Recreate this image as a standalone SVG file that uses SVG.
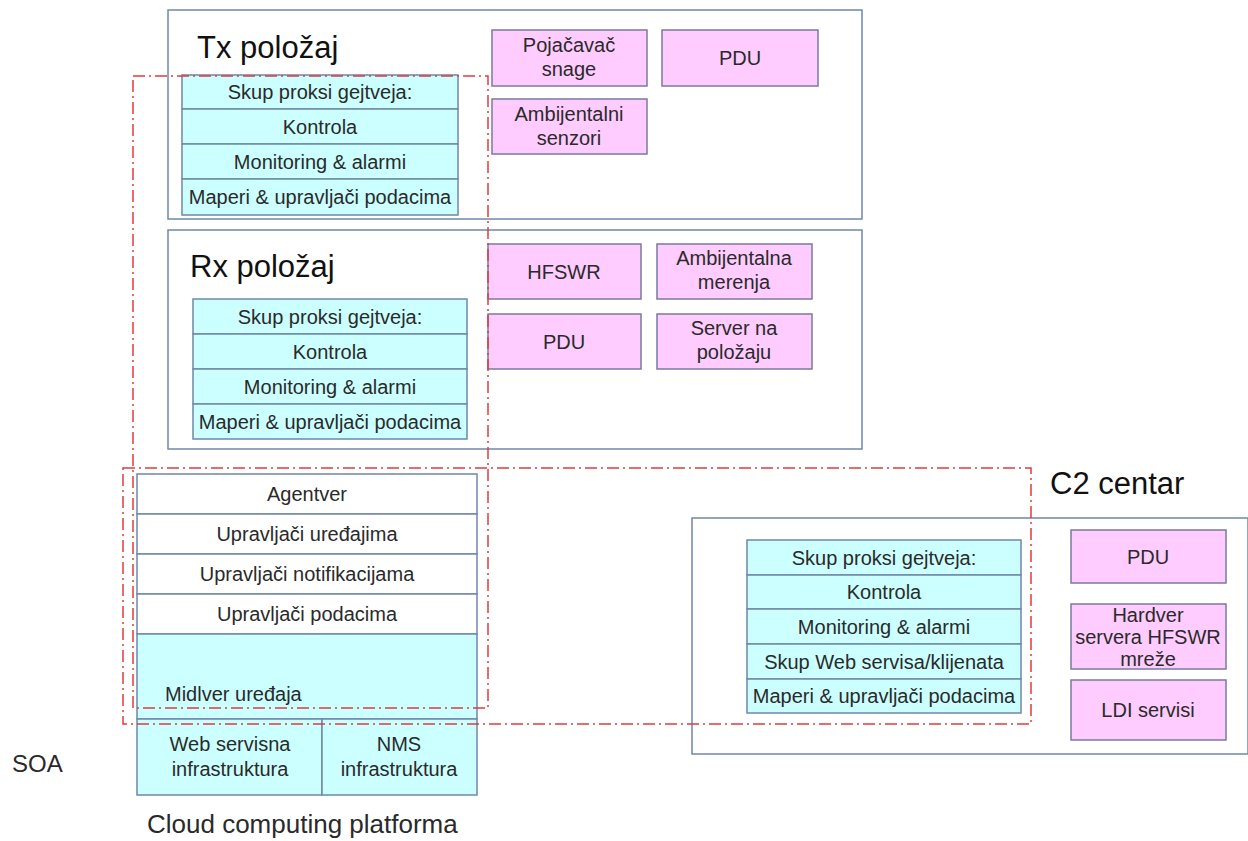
<svg xmlns="http://www.w3.org/2000/svg" width="1248" height="841" viewBox="0 0 1248 841">
<style>
.frame{fill:#fff;stroke:#7088a8;stroke-width:1.5}
.cy{fill:#ccffff;stroke:#7088a8;stroke-width:1.5}
.wh{fill:#fff;stroke:#7088a8;stroke-width:1.5}
.pk{fill:#ffccff;stroke:#7a7aa0;stroke-width:1.5}
.red{fill:none;stroke:#e03c3c;stroke-width:1.5;stroke-dasharray:12 4 2 4}
text{font-family:"Liberation Sans",Arial,sans-serif;fill:#2a2a2a}
.t{font-size:20px;text-anchor:middle}
.h{font-size:31px;fill:#111}
</style>
<rect width="1248" height="841" fill="#fff"/>

<g id="tx">
<rect class="frame" x="168" y="10" width="694" height="209"/>
<text class="h" x="197" y="58">Tx položaj</text>
</g>
<g id="rx">
<rect class="frame" x="168" y="230" width="694" height="219"/>
<text class="h" x="190" y="277">Rx položaj</text>
</g>
<g id="c2">
<rect class="frame" x="692" y="518" width="556" height="236"/>
<text class="h" x="1050" y="494">C2 centar</text>
</g>

<g id="tx-stack">
<rect class="cy" x="182" y="75" width="276" height="34"/>
<rect class="cy" x="182" y="109" width="276" height="35"/>
<rect class="cy" x="182" y="144" width="276" height="35"/>
<rect class="cy" x="182" y="179" width="276" height="36"/>
<text class="t" x="320" y="99">Skup proksi gejtveja:</text>
<text class="t" x="320" y="134">Kontrola</text>
<text class="t" x="320" y="169">Monitoring &amp; alarmi</text>
<text class="t" x="320" y="204">Maperi &amp; upravljači podacima</text>
</g>

<g id="tx-pojacavac"><rect class="pk" x="492" y="30" width="155" height="56"/><text class="t" x="569" y="52">Pojačavač</text><text class="t" x="569" y="76">snage</text></g>
<g id="tx-pdu"><rect class="pk" x="662" y="30" width="156" height="56"/><text class="t" x="740" y="65">PDU</text></g>
<g id="tx-amb"><rect class="pk" x="492" y="99" width="155" height="55"/><text class="t" x="569" y="121">Ambijentalni</text><text class="t" x="569" y="145">senzori</text></g>

<g id="rx-stack">
<rect class="cy" x="193" y="299" width="274" height="35"/>
<rect class="cy" x="193" y="334" width="274" height="35"/>
<rect class="cy" x="193" y="369" width="274" height="35"/>
<rect class="cy" x="193" y="404" width="274" height="35"/>
<text class="t" x="330" y="324">Skup proksi gejtveja:</text>
<text class="t" x="330" y="359">Kontrola</text>
<text class="t" x="330" y="394">Monitoring &amp; alarmi</text>
<text class="t" x="330" y="429">Maperi &amp; upravljači podacima</text>
</g>

<g id="rx-hfswr"><rect class="pk" x="488" y="244" width="153" height="55"/><text class="t" x="564" y="279">HFSWR</text></g>
<g id="rx-amb"><rect class="pk" x="657" y="244" width="155" height="55"/><text class="t" x="734" y="265">Ambijentalna</text><text class="t" x="734" y="289">merenja</text></g>
<g id="rx-pdu"><rect class="pk" x="488" y="314" width="153" height="55"/><text class="t" x="564" y="349">PDU</text></g>
<g id="rx-server"><rect class="pk" x="657" y="314" width="155" height="55"/><text class="t" x="734" y="335">Server na</text><text class="t" x="734" y="359">položaju</text></g>

<g id="mw-stack">
<rect class="wh" x="137" y="474" width="340" height="40"/>
<rect class="wh" x="137" y="514" width="340" height="40"/>
<rect class="wh" x="137" y="554" width="340" height="40"/>
<rect class="wh" x="137" y="594" width="340" height="40"/>
<rect class="cy" x="137" y="634" width="340" height="85"/>
<text class="t" x="307" y="501">Agentver</text>
<text class="t" x="307" y="541">Upravljači uređajima</text>
<text class="t" x="307" y="581">Upravljači notifikacijama</text>
<text class="t" x="307" y="621">Upravljači podacima</text>
<text x="165" y="701" style="font-size:20px">Midlver uređaja</text>
</g>
<g id="infra">
<rect class="cy" x="137" y="719" width="185" height="76"/>
<rect class="cy" x="322" y="719" width="155" height="76"/>
<text class="t" x="230" y="751">Web servisna</text>
<text class="t" x="230" y="776">infrastruktura</text>
<text class="t" x="399" y="751">NMS</text>
<text class="t" x="399" y="776">infrastruktura</text>
</g>

<g id="c2-stack">
<rect class="cy" x="747" y="540" width="274" height="35"/>
<rect class="cy" x="747" y="575" width="274" height="34"/>
<rect class="cy" x="747" y="609" width="274" height="35"/>
<rect class="cy" x="747" y="644" width="274" height="35"/>
<rect class="cy" x="747" y="679" width="274" height="34"/>
<text class="t" x="884" y="565">Skup proksi gejtveja:</text>
<text class="t" x="884" y="599">Kontrola</text>
<text class="t" x="884" y="634">Monitoring &amp; alarmi</text>
<text class="t" x="884" y="669">Skup Web servisa/klijenata</text>
<text class="t" x="884" y="703">Maperi &amp; upravljači podacima</text>
</g>
<g id="c2-pdu"><rect class="pk" x="1071" y="530" width="155" height="53"/><text class="t" x="1148" y="564">PDU</text></g>
<g id="c2-hw"><rect class="pk" x="1071" y="604" width="155" height="65"/><text class="t" x="1148" y="622">Hardver</text><text class="t" x="1148" y="644">servera HFSWR</text><text class="t" x="1148" y="666">mreže</text></g>
<g id="c2-ldi"><rect class="pk" x="1071" y="680" width="155" height="60"/><text class="t" x="1148" y="717">LDI servisi</text></g>

<g id="labels">
<text x="12" y="772" style="font-size:24px">SOA</text>
<text x="147" y="833" style="font-size:26px">Cloud computing platforma</text>
</g>

<g id="connectors">
<rect class="red" x="133" y="76" width="355" height="632"/>
<rect class="red" x="123" y="468" width="908" height="256"/>
</g>
</svg>
